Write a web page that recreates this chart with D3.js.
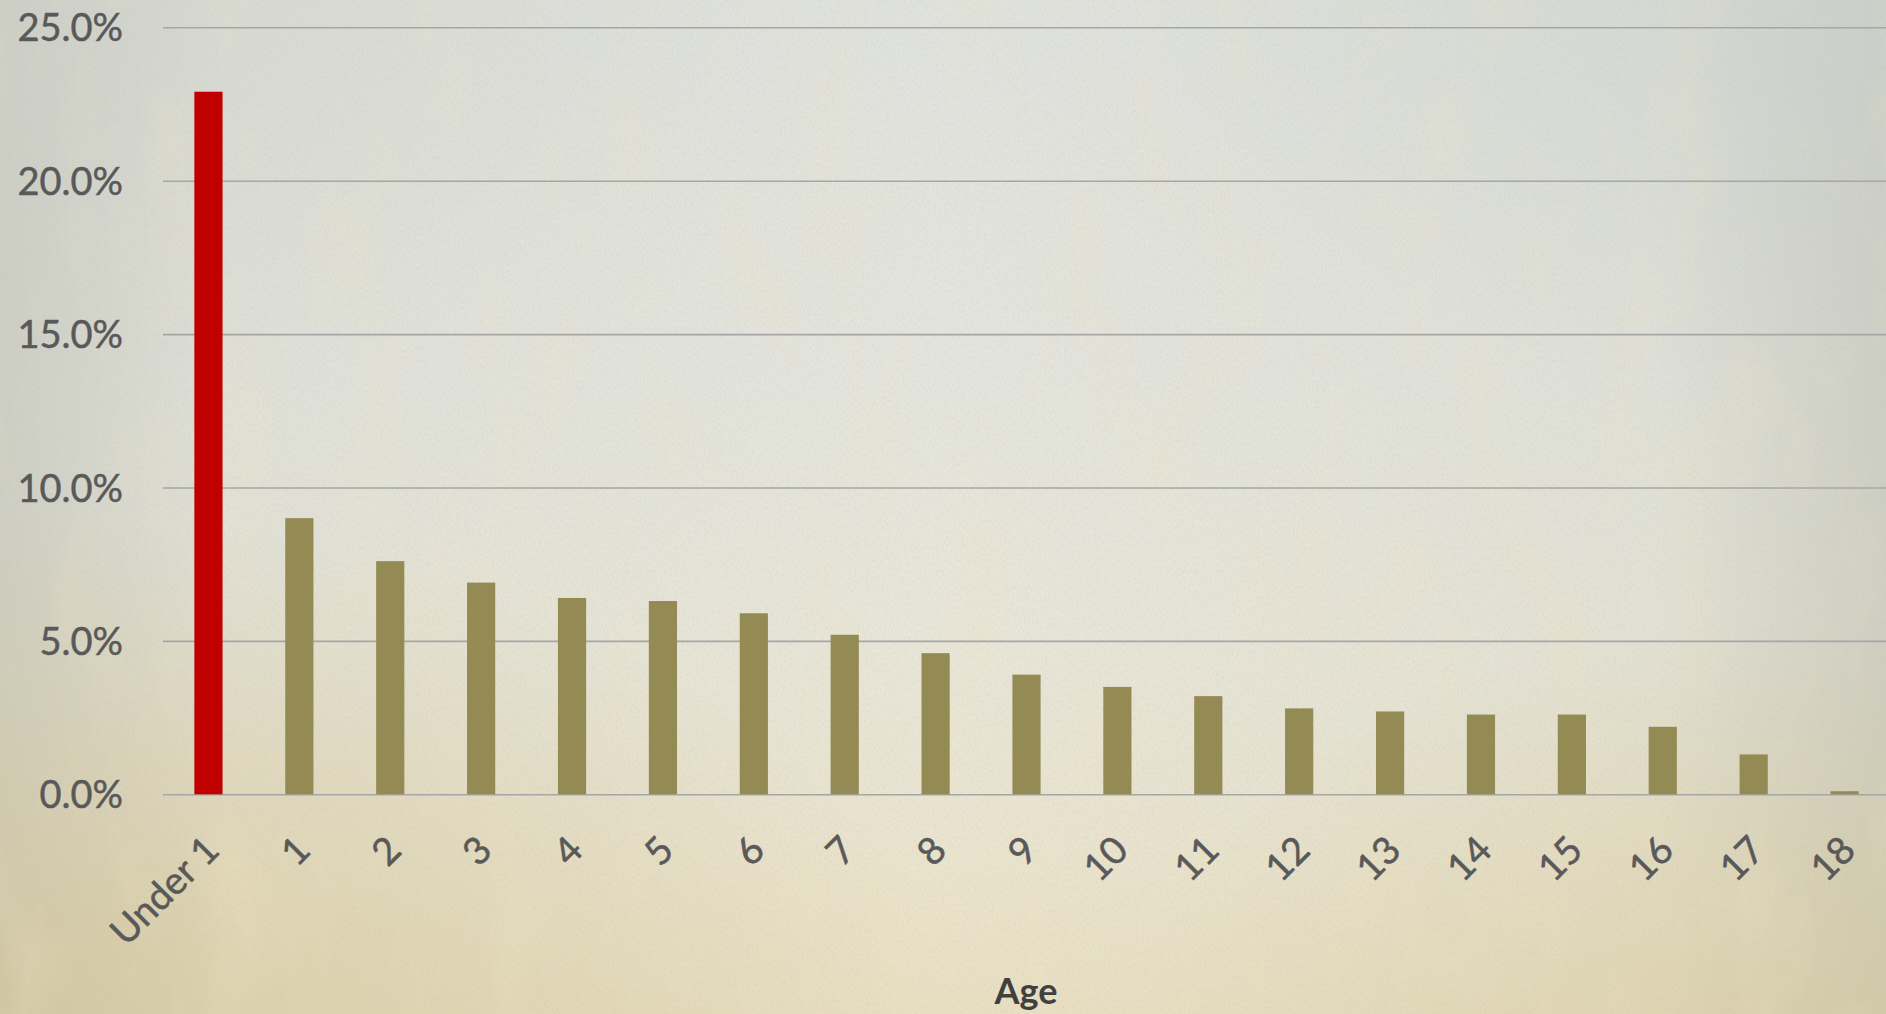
<!DOCTYPE html>
<html>
<head>
<meta charset="utf-8">
<script src="https://cdn.jsdelivr.net/npm/d3@7"></script>
<style>
  html, body { margin: 0; padding: 0; overflow: hidden; }
  svg { display: block; }
</style>
</head>
<body>
<svg id="chart" width="1886" height="1014"></svg>
<script>
// ---- data ----
const categories = ["Under 1", "1", "2", "3", "4", "5", "6", "7", "8", "9", "10", "11", "12", "13", "14", "15", "16", "17", "18"];
const shares = [0.229, 0.090, 0.076, 0.069, 0.064, 0.063, 0.059, 0.052, 0.046, 0.039, 0.035, 0.032, 0.028, 0.027, 0.026, 0.026, 0.022, 0.013, 0.001];
const highlighted = ["Under 1"];
const yTicks = [0, 0.05, 0.10, 0.15, 0.20, 0.25];
const xAxisTitle = "Age";

// ---- layout ----
const W = 1886, H = 1014;
const plot = { left: 163, right: 1890, top: 27.3, bottom: 794.3 };

const svg = d3.select("#chart");
const defs = svg.append("defs");

function radial(id, cx, cy, r, color, op) {
  const g = defs.append("radialGradient").attr("id", id).attr("cx", cx).attr("cy", cy).attr("r", r);
  g.append("stop").attr("offset", "0%").attr("stop-color", color).attr("stop-opacity", op);
  g.append("stop").attr("offset", "100%").attr("stop-color", color).attr("stop-opacity", 0);
}

// background gradient layers
const lg = defs.append("linearGradient").attr("id", "bgLin").attr("x1", 0).attr("y1", 0).attr("x2", 0).attr("y2", 1);
[["0%", "#e0e3df"], ["40%", "#e5e6df"], ["65%", "#e9e7da"], ["85%", "#ebe5cf"], ["100%", "#e9e0c3"]]
  .forEach(([o, c]) => lg.append("stop").attr("offset", o).attr("stop-color", c));

const hg = defs.append("linearGradient").attr("id", "bgEdges").attr("x1", 0).attr("y1", 0).attr("x2", 1).attr("y2", 0);
[["0%", 0.55], ["12%", 0.12], ["50%", 0], ["88%", 0.12], ["100%", 0.55]]
  .forEach(([o, a]) => hg.append("stop").attr("offset", o).attr("stop-color", "#b9bbb0").attr("stop-opacity", a));

radial("bgBL", 0, 1, 0.5, "#d3c28e", 0.55);
radial("bgBR", 1, 1, 0.4, "#d6c795", 0.45);
radial("bgTR", 1, 0, 0.4, "#c9d3d3", 0.5);
radial("bgTL", 0, 0, 0.4, "#cfd2ca", 0.45);

// paper texture
const f = defs.append("filter").attr("id", "paper").attr("x", 0).attr("y", 0).attr("width", "100%").attr("height", "100%");
f.append("feTurbulence").attr("type", "fractalNoise").attr("baseFrequency", "0.9 0.3").attr("numOctaves", 3).attr("seed", 7);
f.append("feColorMatrix").attr("type", "matrix")
  .attr("values", "0 0 0 0 0.55  0 0 0 0 0.5  0 0 0 0 0.38  0 0 0 -1.6 1.05");

const f2 = defs.append("filter").attr("id", "paper2").attr("x", 0).attr("y", 0).attr("width", "100%").attr("height", "100%");
f2.append("feTurbulence").attr("type", "fractalNoise").attr("baseFrequency", "0.015 0.006").attr("numOctaves", 4).attr("seed", 3);
f2.append("feColorMatrix").attr("type", "matrix")
  .attr("values", "0 0 0 0 0.86  0 0 0 0 0.78  0 0 0 0 0.56  0 0 0 -2.2 1.15");

const bg = svg.append("g").attr("class", "background");
bg.append("rect").attr("width", W).attr("height", H).attr("fill", "url(#bgLin)");
bg.append("rect").attr("width", W).attr("height", H).attr("fill", "url(#bgEdges)");
bg.append("rect").attr("width", W).attr("height", H).attr("fill", "url(#bgTL)");
bg.append("rect").attr("width", W).attr("height", H).attr("fill", "url(#bgTR)");
bg.append("rect").attr("width", W).attr("height", H).attr("fill", "url(#bgBL)");
bg.append("rect").attr("width", W).attr("height", H).attr("fill", "url(#bgBR)");
bg.append("rect").attr("width", W).attr("height", H).attr("filter", "url(#paper2)").attr("opacity", 0.3);
bg.append("rect").attr("width", W).attr("height", H).attr("filter", "url(#paper)").attr("opacity", 0.25);

// ---- scales ----
const x = d3.scaleBand().domain(categories).range([plot.left, plot.right])
  .paddingInner(0.69).paddingOuter(0.345);
const y = d3.scaleLinear().domain([0, 0.25]).range([plot.bottom, plot.top]);

const fontFam = "Lato, 'Open Sans', sans-serif";

// gridlines + y labels
const yAxis = d3.axisLeft(y).tickValues(yTicks).tickSize(-(W - plot.left)).tickFormat(d3.format(".1%")).tickPadding(40);
const gy = svg.append("g").attr("transform", `translate(${plot.left},0)`).call(yAxis);
gy.select(".domain").remove();
gy.selectAll(".tick line").attr("stroke", "#a6a6a6").attr("stroke-width", 1.6);
gy.selectAll(".tick text")
  .attr("font-family", fontFam)
  .attr("font-size", 38).attr("fill", "#595959")
  .attr("stroke", "#595959").attr("stroke-width", 0.5)
  .attr("dy", "0.36em");

// bars
svg.append("g").selectAll("rect").data(categories).join("rect")
  .attr("x", d => x(d))
  .attr("width", x.bandwidth())
  .attr("y", (d, i) => y(shares[i]))
  .attr("height", (d, i) => y(0) - y(shares[i]))
  .attr("fill", d => highlighted.includes(d) ? "#C00000" : "#948A54");

// x axis labels
const xAxis = d3.axisBottom(x).tickSize(0).tickPadding(0);
const gx = svg.append("g").attr("transform", `translate(0,${plot.bottom})`).call(xAxis);
gx.select(".domain").remove();
gx.selectAll(".tick text")
  .attr("font-family", fontFam)
  .attr("font-size", 38).attr("fill", "#595959")
  .attr("stroke", "#595959").attr("stroke-width", 0.5)
  .attr("text-anchor", "end")
  .attr("dy", null).attr("y", null)
  .attr("transform", "translate(13,58) rotate(-45)");

// axis title
svg.append("text")
  .attr("x", 1026).attr("y", 1004)
  .attr("text-anchor", "middle")
  .attr("font-family", fontFam)
  .attr("font-weight", "bold").attr("font-size", 36).attr("fill", "#404040")
  .text(xAxisTitle);
</script>
</body>
</html>
